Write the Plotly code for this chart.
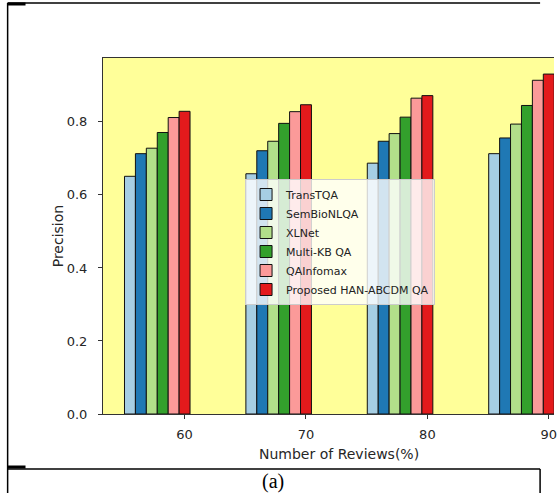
import plotly.graph_objects as go

# ---- data ----
groups = [60, 70, 80, 90]
methods = ["TransTQA", "SemBioNLQA", "XLNet", "Multi-KB QA", "QAInfomax",
           "Proposed HAN-ABCDM QA"]
transtqa = [0.651, 0.658, 0.687, 0.713]
sembionlqa = [0.713, 0.721, 0.747, 0.756]
xlnet = [0.728, 0.747, 0.768, 0.794]
multikb = [0.771, 0.796, 0.813, 0.845]
qainfomax = [0.812, 0.828, 0.865, 0.914]
proposed = [0.829, 0.847, 0.872, 0.931]
y_ticks = [0.0, 0.2, 0.4, 0.6, 0.8]

series = [transtqa, sembionlqa, xlnet, multikb, qainfomax, proposed]
colors = ["#a6cee3", "#1f78b4", "#b2df8a", "#33a02c", "#fb9a99", "#e31a1c"]

W, H = 557, 493
L, R, T, B = 103, 0, 58, 79
PW, PH = W - L - R, H - T - B


def px(x):
    return (x - L) / PW


def py(y):
    return (H - B - y) / PH


bar_w = 0.9
fig = go.Figure()
for i, (name, vals) in enumerate(zip(methods, series)):
    fig.add_trace(go.Bar(
        x=[g + (i - 5) * bar_w for g in groups], y=vals, name=name,
        width=bar_w, marker=dict(color=colors[i], line=dict(color="#111", width=1)),
    ))

axis_font = dict(family="DejaVu Sans", size=13, color="#262626")
fig.update_layout(
    width=W, height=H, barmode="overlay",
    margin=dict(l=L, r=R, t=T, b=B, pad=0),
    paper_bgcolor="white", plot_bgcolor="#ffff99",
    showlegend=True,
    legend=dict(x=px(246), y=py(179), xanchor="left", yanchor="top",
                bgcolor="rgba(255,255,255,0.8)", bordercolor="#cccccc",
                borderwidth=1, font=dict(family="DejaVu Sans", size=11, color="#222")),
    xaxis=dict(range=[53.28, 90.43], tickvals=groups, ticktext=[str(g) for g in groups],
               ticks="outside", ticklen=4, tickcolor="#333", showgrid=False,
               zeroline=False, showline=True, mirror=True, linecolor="#333",
               linewidth=1, tickfont=axis_font, ticklabelstandoff=4,
               ticklabeloverflow="allow"),
    yaxis=dict(range=[0, 0.975], tickvals=y_ticks, ticktext=[f"{v:.1f}" for v in y_ticks],
               ticks="outside", ticklen=4, tickcolor="#333", showgrid=False,
               zeroline=False, showline=True, mirror=False, linecolor="#333",
               linewidth=1, tickfont=axis_font, ticklabelstandoff=8),
)

fig.add_annotation(text="Number of Reviews(%)", x=px(341), y=py(454), xref="paper",
                   yref="paper", showarrow=False, xanchor="center", yanchor="middle",
                   font=dict(family="DejaVu Sans", size=14, color="#262626"))
fig.add_annotation(text="Precision", x=px(58), y=py(236), xref="paper", yref="paper",
                   showarrow=False, textangle=-90, xanchor="center", yanchor="middle",
                   font=dict(family="DejaVu Sans", size=14, color="#262626"))
fig.add_annotation(text="(a)", x=px(274), y=py(481), xref="paper", yref="paper",
                   showarrow=False, xanchor="center", yanchor="middle",
                   font=dict(family="Liberation Serif", size=20, color="black"))

frame = [
    (7, 3, 543, 3, 1.5), (7, 4, 25, 4, 3), (7, 3, 7, 493, 1.5),
    (7, 469, 543, 469, 1.5), (7, 467, 25, 467, 3), (543, 469, 543, 493, 1.5),
]
for x0, y0, x1, y1, wd in frame:
    fig.add_shape(type="line", xref="paper", yref="paper", x0=px(x0), y0=py(y0),
                  x1=px(x1), y1=py(y1), line=dict(color="black", width=wd))

fig.write_html("out.html", config={"displayModeBar": False},
               post_script="document.body.style.margin='0';document.body.style.overflow='hidden';")
